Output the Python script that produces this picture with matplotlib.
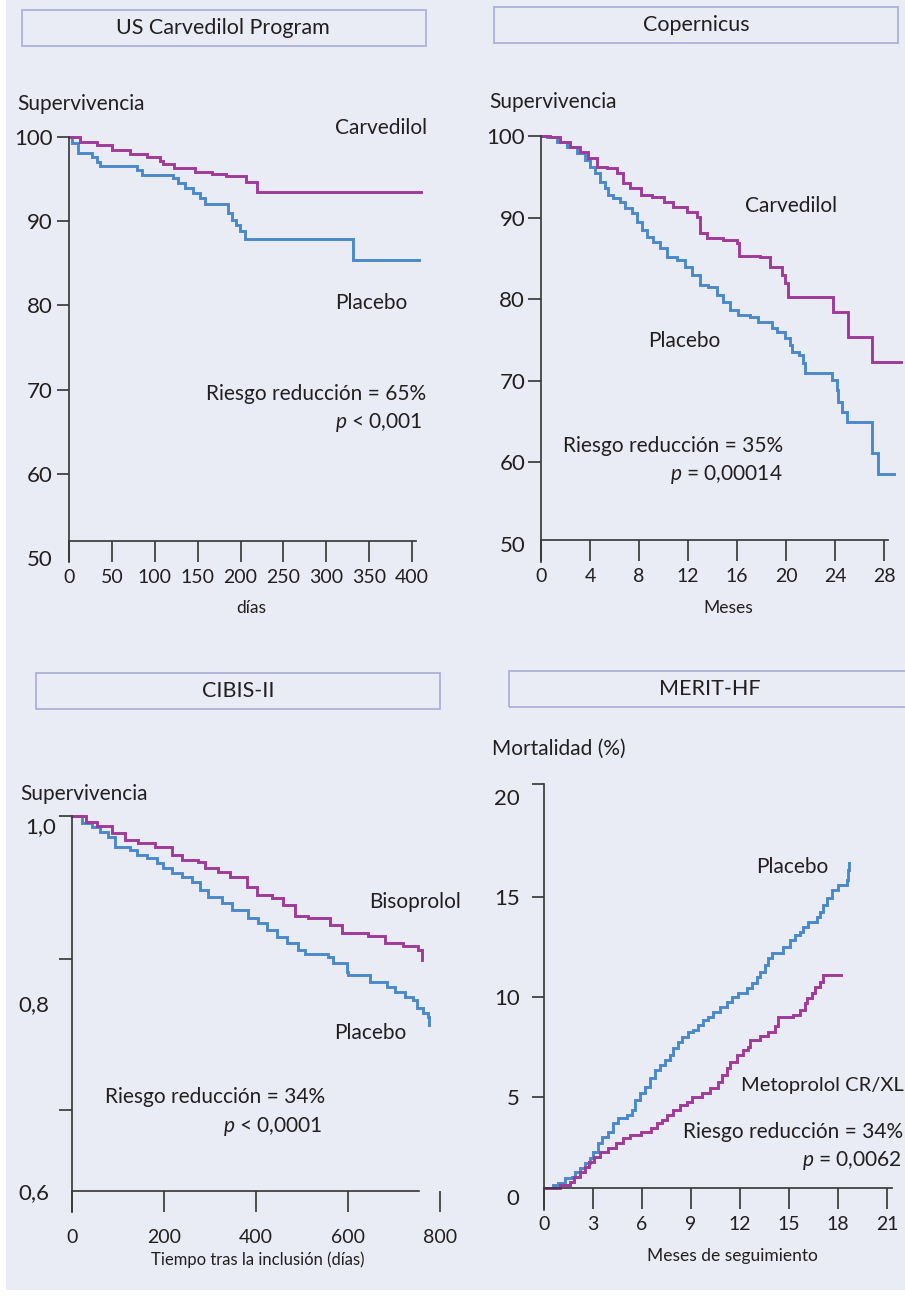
import matplotlib
matplotlib.use('Agg')
import matplotlib.pyplot as plt
from matplotlib.patches import Rectangle

# ---------------- data ----------------
# US Carvedilol Program (days, survival %)
us_carv_days = [0, 12.8, 32.7, 50, 71, 91, 106, 110, 122.5, 147, 167, 183, 206.5, 219, 411]
us_carv_surv = [100, 99.4, 99.05, 98.46, 97.98, 97.6, 97.15, 96.8, 96.3, 95.85, 95.6, 95.4, 94.7, 93.5, 93.5]
us_plac_days = [0, 3.5, 10.5, 27, 32.7, 36, 79, 85, 121, 127, 135, 145, 153, 159, 185.5, 190, 195,
                199.5, 205, 331, 408]
us_plac_surv = [100, 99.3, 98.1, 97.6, 97.0, 96.55, 96.1, 95.5, 95.1, 94.5, 93.95, 93.35, 92.75, 92.05,
                91.0, 90.15, 89.55, 88.85, 87.9, 85.4, 85.4]

# Copernicus (months, survival %)
cop_carv_m = [0, 0.7, 1.55, 2.4, 3.2, 3.85, 4.6, 5.4, 6.2, 6.7, 7.3, 8.2, 9.1, 10.0, 10.8, 11.9, 12.7,
              13.0, 13.55, 14.85, 16.0, 16.2, 17.9, 18.7, 19.7, 19.9, 20.2, 23.8, 25.1, 27.0, 29.4]
cop_carv_s = [100, 99.9, 99.3, 98.65, 98.0, 97.3, 96.2, 96.1, 95.5, 94.2, 93.6, 92.8, 92.5, 91.9, 91.3,
              90.7, 90.1, 88.1, 87.5, 87.2, 86.9, 85.3, 85.2, 83.9, 82.9, 82.0, 80.2, 78.4, 75.3, 72.3, 72.3]
cop_plac_m = [0, 0.5, 1.3, 2.1, 2.9, 3.6, 4.0, 4.4, 4.8, 5.2, 5.5, 5.9, 6.45, 6.85, 7.4, 7.85, 8.25,
              8.65, 9.15, 9.7, 10.3, 11.1, 11.75, 12.3, 13.0, 13.6, 14.4, 14.85, 15.4, 16.05, 17.05,
              17.7, 18.85, 19.3, 19.9, 20.3, 20.5, 21.1, 21.4, 21.55, 23.4, 23.75, 24.15, 24.25, 24.6,
              25.0, 27.0, 27.5, 28.8]
cop_plac_s = [100, 99.9, 99.3, 98.65, 97.9, 97.1, 96.2, 95.5, 94.4, 93.6, 92.8, 92.4, 91.9, 91.2,
              90.55, 89.45, 88.5, 87.6, 87.0, 86.3, 85.2, 84.8, 83.9, 82.9, 81.7, 81.5, 80.5, 79.6,
              78.65, 78.0, 77.8, 77.2, 76.4, 75.9, 75.2, 74.4, 73.5, 73.1, 72.1, 70.9, 70.9, 70.1,
              68.8, 67.4, 66.1, 64.9, 61.1, 58.5, 58.5]

# CIBIS-II (days, survival fraction)
cib_biso_d = [0, 4.3, 30, 54, 87, 115, 143, 180, 217, 239, 274, 289, 317, 343, 380, 402, 435, 459,
              485, 513, 561, 587, 643, 680, 720, 752, 761]
cib_biso_s = [1.0, 1.0, 0.9936, 0.9893, 0.9819, 0.9744, 0.9712, 0.9669, 0.9584, 0.9531, 0.9509,
              0.9445, 0.9403, 0.9349, 0.9243, 0.9157, 0.9125, 0.9051, 0.8933, 0.8912, 0.8837, 0.8752,
              0.872, 0.8645, 0.8613, 0.8571, 0.8464]
cib_plac_d = [0, 21.7, 43.5, 61, 78, 93.5, 126, 141, 163, 185, 198, 217, 239, 261, 278, 296, 326,
              348, 383, 404, 424, 446, 467, 491, 507, 557, 567, 598, 600, 648, 685, 702, 724, 741,
              750, 763, 774, 776]
cib_plac_s = [1.0, 0.9925, 0.9883, 0.9829, 0.9776, 0.9669, 0.9637, 0.9584, 0.9552, 0.9499, 0.9445,
              0.9392, 0.9349, 0.9296, 0.9211, 0.9136, 0.9072, 0.8997, 0.8912, 0.8859, 0.8784, 0.8709,
              0.8645, 0.8571, 0.8528, 0.8496, 0.8432, 0.8336, 0.8304, 0.8229, 0.8176, 0.8123, 0.8069,
              0.8037, 0.7952, 0.7899, 0.7856, 0.7771]

# MERIT-HF (months, mortality %)
mer_plac_m = [0, 0.55, 0.86, 1.29, 1.71, 1.9, 2.2, 2.51, 2.82, 3.0, 3.31, 3.55, 3.92, 4.23, 4.53,
              5.08, 5.39, 5.57, 5.88, 6.18, 6.49, 6.8, 7.1, 7.41, 7.72, 7.9, 8.2, 8.45, 8.82, 9.12,
              9.43, 9.74, 10.04, 10.35, 10.78, 11.21, 11.51, 11.88, 12.43, 12.74, 13.04, 13.23, 13.53,
              13.72, 13.96, 14.64, 15.06, 15.37, 15.68, 15.86, 16.17, 16.72, 16.9, 17.08, 17.33, 17.64,
              18.0, 18.55, 18.6, 18.68]
mer_plac_v = [0.45, 0.6, 0.7, 0.95, 1.0, 1.25, 1.45, 1.7, 1.95, 2.25, 2.7, 3.0, 3.25, 3.7, 3.95,
              4.1, 4.35, 4.85, 5.2, 5.5, 5.95, 6.35, 6.6, 6.85, 7.1, 7.45, 7.75, 8.0, 8.25, 8.35,
              8.6, 8.85, 9.0, 9.25, 9.5, 9.75, 10.0, 10.2, 10.45, 10.7, 11.0, 11.25, 11.6, 11.95,
              12.2, 12.5, 12.85, 13.1, 13.25, 13.5, 13.75, 14.0, 14.25, 14.6, 14.95, 15.35, 15.6,
              15.85, 16.35, 16.7]
mer_meto_m = [0, 0.98, 1.59, 1.84, 2.2, 2.51, 2.76, 3.06, 3.43, 3.92, 4.41, 4.84, 5.27, 5.94, 6.55,
              6.92, 7.23, 7.53, 7.9, 8.33, 8.76, 9.06, 9.67, 10.16, 10.66, 10.9, 11.21, 11.39, 11.82,
              12.19, 12.5, 12.62, 13.23, 13.72, 14.15, 14.3, 15.25, 15.68, 16.0, 16.1, 16.4, 16.6,
              16.9, 17.1, 18.2]
mer_meto_v = [0.45, 0.6, 0.75, 1.0, 1.25, 1.5, 1.75, 2.0, 2.25, 2.45, 2.7, 2.95, 3.1, 3.25, 3.45,
              3.7, 3.85, 4.1, 4.35, 4.6, 4.75, 5.0, 5.2, 5.45, 5.75, 6.1, 6.45, 6.75, 7.1, 7.35, 7.5,
              7.85, 8.05, 8.25, 8.55, 9.0, 9.1, 9.35, 9.7, 9.95, 10.2, 10.5, 10.75, 11.1, 11.1]

us_xticks = [0, 50, 100, 150, 200, 250, 300, 350, 400]
us_yticks = [50, 60, 70, 80, 90, 100]
cop_xticks = [0, 4, 8, 12, 16, 20, 24, 28]
cop_yticks = [50, 60, 70, 80, 90, 100]
cib_xticks = [0, 200, 400, 600, 800]
cib_ytick_labels = {0.8: '0,8', 0.6: '0,6'}
mer_xticks = [0, 3, 6, 9, 12, 15, 18, 21]
mer_yticks = [0, 5, 10, 15, 20]

# ---------------- style ----------------
W, H, DPI = 905, 1297, 100
PT = 72.0 / DPI
FONT = ['Lato', 'DejaVu Sans']
plt.rcParams['font.family'] = FONT
plt.rcParams['mathtext.fontset'] = 'custom'
plt.rcParams['mathtext.it'] = 'Lato:italic'
plt.rcParams['mathtext.rm'] = 'Lato'

BG = '#e9ebf5'
TXT = '#231f20'
PURPLE = '#a0399a'
BLUE = '#4a88cc'
BOX = '#a9acd9'
AXC = '#383838'
LW_CURVE = 2.9 * PT
LW_AX = 1.7 * PT

fig = plt.figure(figsize=(W / DPI, H / DPI), dpi=DPI, facecolor='white')
fig.add_artist(Rectangle((6 / W, 1 - 1290 / H), (W - 6) / W, 1290 / H, transform=fig.transFigure,
                         facecolor=BG, edgecolor='none', zorder=-10))


def fx(px):
    return px / W


def fy(py):
    return 1 - py / H


def ftext(px, py, s, size, ha='left', va='center', **kw):
    fig.text(fx(px), fy(py), s, fontsize=size, ha=ha, va=va, color=TXT, **kw)


def title_box(x0, y0, x1, y1, label, cx, size=15.5):
    fig.add_artist(Rectangle((fx(x0), fy(y1)), (x1 - x0) / W, (y1 - y0) / H,
                             transform=fig.transFigure, fill=False, edgecolor=BOX, lw=1.7 * PT))
    ftext(cx, (y0 + y1) / 2, label, size, ha='center')


def make_axes(x0px, pxx, xlim, yref_px, yref, pxy, ylim):
    left = x0px + xlim[0] * pxx
    right = x0px + xlim[1] * pxx
    top = yref_px - (ylim[1] - yref) * pxy
    bottom = yref_px + (yref - ylim[0]) * pxy
    ax = fig.add_axes([fx(left), fy(bottom), (right - left) / W, (bottom - top) / H])
    ax.set_xlim(*xlim)
    ax.set_ylim(*ylim)
    ax.patch.set_alpha(0)
    for s in ('top', 'right'):
        ax.spines[s].set_visible(False)
    for s in ('left', 'bottom'):
        ax.spines[s].set_color(AXC)
        ax.spines[s].set_linewidth(LW_AX)
    return ax


def curve(ax, x, y, color):
    ax.step(x, y, where='post', color=color, lw=LW_CURVE, clip_on=False, solid_joinstyle='miter')


# ---------------- Panel 1: US Carvedilol ----------------
title_box(22, 10, 426, 46, 'US Carvedilol Program', 223)
ax1 = make_axes(69, 0.8575, (0, 420), 137, 100, 8.425, (49, 101))
ax1.spines['left'].set_bounds(49.5, 100)
ax1.spines['bottom'].set_position(('data', 52))
ax1.spines['bottom'].set_bounds(0, 405)
ax1.set_xticks(us_xticks)
ax1.set_xticklabels([str(v) for v in us_xticks])
ax1.set_yticks(us_yticks)
ax1.set_yticklabels([str(v) for v in us_yticks])
ax1.tick_params(axis='x', direction='out', length=21 * PT, width=LW_AX, color=AXC,
                labelsize=14, labelcolor=TXT, pad=5)
ax1.tick_params(axis='y', direction='out', length=12 * PT, width=LW_AX, color=AXC,
                labelsize=16, labelcolor=TXT, pad=3)
ax1.yaxis.get_major_ticks()[0].tick1line.set_visible(False)
curve(ax1, us_plac_days, us_plac_surv, BLUE)
curve(ax1, us_carv_days, us_carv_surv, PURPLE)
ftext(17, 104, 'Supervivencia', 15)
ftext(335, 128, 'Carvedilol', 15)
ftext(335, 303, 'Placebo', 15)
ftext(426, 394, 'Riesgo reducción = 65%', 15, ha='right')
ftext(423, 423, r'$p$ < 0,001', 15, ha='right')
ftext(251, 608, 'días', 12.5, ha='center')

# ---------------- Panel 2: Copernicus ----------------
title_box(494, 7, 898, 43, 'Copernicus', 696)
ax2 = make_axes(541, 12.25, (0, 29.6), 136, 100, 8.15, (47.5, 101))
ax2.spines['left'].set_bounds(47.7, 100)
ax2.spines['bottom'].set_position(('data', 50.4))
ax2.spines['bottom'].set_bounds(0, 28.3)
ax2.set_xticks(cop_xticks)
ax2.set_xticklabels([str(v) for v in cop_xticks])
ax2.set_yticks(cop_yticks)
ax2.set_yticklabels([str(v) for v in cop_yticks])
ax2.tick_params(axis='x', direction='out', length=21 * PT, width=LW_AX, color=AXC,
                labelsize=14, labelcolor=TXT, pad=5)
ax2.tick_params(axis='y', direction='out', length=13 * PT, width=LW_AX, color=AXC,
                labelsize=16, labelcolor=TXT, pad=2)
ax2.yaxis.get_major_ticks()[0].tick1line.set_visible(False)
curve(ax2, cop_plac_m, cop_plac_s, BLUE)
curve(ax2, cop_carv_m, cop_carv_s, PURPLE)
ftext(489, 102, 'Supervivencia', 15)
ftext(745, 206, 'Carvedilol', 15)
ftext(648, 341, 'Placebo', 15)
ftext(783, 446, 'Riesgo reducción = 35%', 15, ha='right')
ftext(783, 475, r'$p$ = 0,00014', 15, ha='right')
ftext(728, 608, 'Meses', 12.5, ha='center')

# ---------------- Panel 3: CIBIS-II ----------------
title_box(36, 673, 440, 709, 'CIBIS-II', 238)
ax3 = make_axes(72, 0.46, (0, 830), 816, 1.0, 937.5, (0.57, 1.01))
ax3.spines['left'].set_bounds(0.5776, 1.0)
ax3.spines['bottom'].set_position(('data', 0.6))
ax3.spines['bottom'].set_bounds(0, 754)
ax3.set_xticks(cib_xticks)
ax3.set_xticklabels([str(v) for v in cib_xticks])
ax3.set_yticks(list(cib_ytick_labels.keys()))
ax3.set_yticklabels(list(cib_ytick_labels.values()))
ax3.set_yticks([1.0, 0.847, 0.686], minor=True)
ax3.tick_params(axis='x', direction='out', length=21 * PT, width=LW_AX, color=AXC,
                labelsize=14, labelcolor=TXT, pad=12)
ax3.tick_params(axis='y', which='major', length=0, labelsize=16, labelcolor=TXT, pad=16)
ax3.tick_params(axis='y', which='minor', direction='out', length=13 * PT, width=LW_AX, color=AXC)
ax3.annotate('1,0', xy=(0, 1.0), xycoords=('axes fraction', 'data'), xytext=(-16, -11),
             textcoords='offset pixels', ha='right', va='center', fontsize=16, color=TXT)
curve(ax3, cib_plac_d, cib_plac_s, BLUE)
curve(ax3, cib_biso_d, cib_biso_s, PURPLE)
ftext(20, 794, 'Supervivencia', 15)
ftext(369, 902, 'Bisoprolol', 15)
ftext(334, 1033, 'Placebo', 15)
ftext(325, 1097, 'Riesgo reducción = 34%', 15, ha='right')
ftext(323, 1126, r'$p$ < 0,0001', 15, ha='right')
ftext(258, 1260, 'Tiempo tras la inclusión (días)', 12, ha='center')

# ---------------- Panel 4: MERIT-HF ----------------
title_box(509, 671, 915, 707, 'MERIT-HF', 710)
ax4 = make_axes(544, 16.33, (0, 21.6), 1197, 0, 20.0, (-0.8, 21))
ax4.spines['left'].set_bounds(-0.65, 20.65)
ax4.spines['bottom'].set_position(('data', 0.45))
ax4.spines['bottom'].set_bounds(0, 21.3)
ax4.set_xticks(mer_xticks)
ax4.set_xticklabels([str(v) for v in mer_xticks])
ax4.set_yticks(mer_yticks)
ax4.set_yticklabels([str(v) for v in mer_yticks])
ax4.set_yticks([20.65], minor=True)
ax4.tick_params(axis='x', direction='out', length=21 * PT, width=LW_AX, color=AXC,
                labelsize=14, labelcolor=TXT, pad=5)
ax4.tick_params(axis='y', which='major', direction='out', length=12 * PT, width=LW_AX, color=AXC,
                labelsize=16, labelcolor=TXT, pad=9)
ax4.tick_params(axis='y', which='minor', direction='out', length=12 * PT, width=LW_AX, color=AXC)
ax4.yaxis.get_major_ticks()[0].tick1line.set_visible(False)
ax4.yaxis.get_major_ticks()[-1].tick1line.set_visible(False)
curve(ax4, mer_plac_m, mer_plac_v, BLUE)
curve(ax4, mer_meto_m, mer_meto_v, PURPLE)
ftext(492, 749, 'Mortalidad (%)', 15)
ftext(756, 867, 'Placebo', 15)
ftext(741, 1085, 'Metoprolol CR/XL', 14.5)
ftext(903, 1132, 'Riesgo reducción = 34%', 15, ha='right')
ftext(902, 1160, r'$p$ = 0,0062', 15, ha='right')
ftext(732, 1256, 'Meses de seguimiento', 12.5, ha='center')

fig.savefig('out.png', dpi=DPI, facecolor='white')
